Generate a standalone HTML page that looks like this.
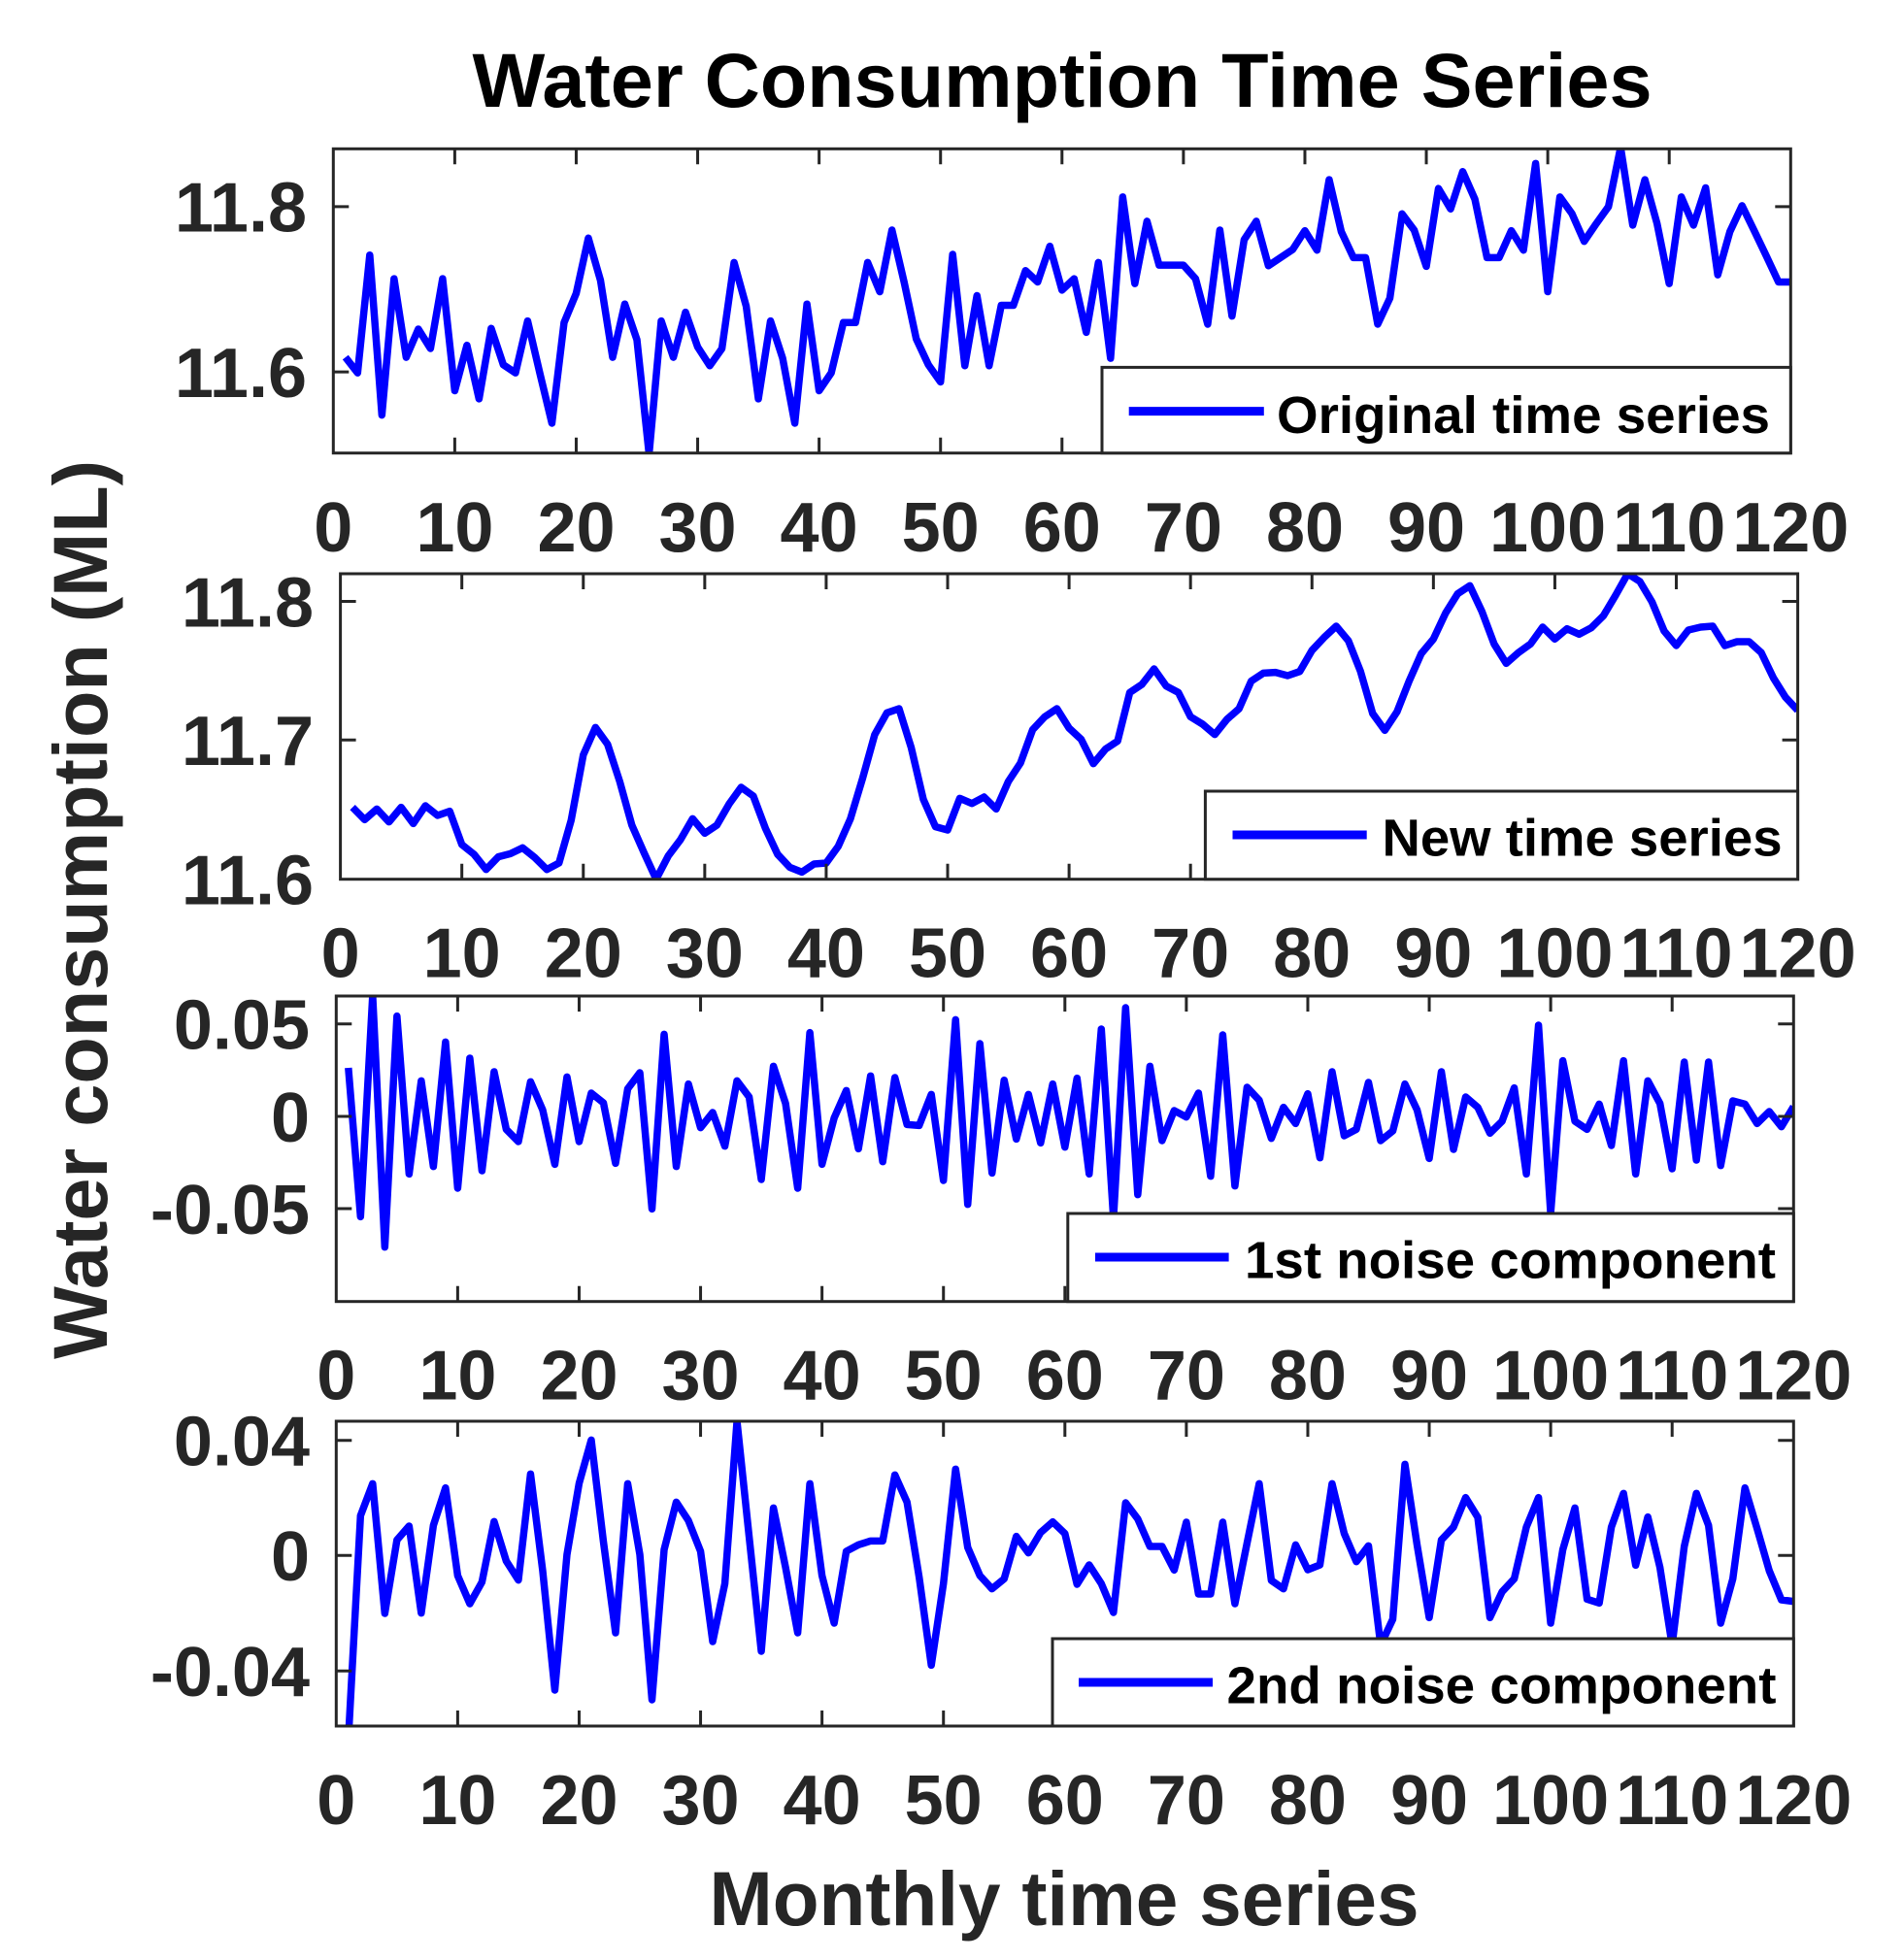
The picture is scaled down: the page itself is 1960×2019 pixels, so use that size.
<!DOCTYPE html>
<html>
<head>
<meta charset="utf-8">
<style>
html,body{margin:0;padding:0;background:#fff;}
svg{display:block;}
text{font-family:"Liberation Sans",Arial,sans-serif;font-weight:bold;}
.tl{font-size:72px;fill:#262626;}
.lg{font-size:54px;fill:#000;}
.ax{fill:none;stroke:#262626;stroke-width:3;}
.dl{fill:none;stroke:#0000FF;stroke-width:7.5;stroke-linejoin:round;stroke-linecap:butt;}
</style>
</head>
<body>
<svg width="1960" height="2019" viewBox="0 0 1960 2019" xmlns="http://www.w3.org/2000/svg">
<rect width="1960" height="2019" fill="#fff"/>
<defs>
<clipPath id="c1"><rect x="343.3" y="153.3" width="1501" height="313.4"/></clipPath>
<clipPath id="c2"><rect x="350.6" y="591" width="1501" height="314.7"/></clipPath>
<clipPath id="c3"><rect x="346.3" y="1026" width="1501" height="314.7"/></clipPath>
<clipPath id="c4"><rect x="346.3" y="1464" width="1501" height="314"/></clipPath>
</defs>

<!-- Title -->
<text x="1094" y="110" font-size="79" text-anchor="middle" fill="#000" textLength="1215" lengthAdjust="spacingAndGlyphs">Water Consumption Time Series</text>
<!-- Y label -->
<text transform="translate(110,937) rotate(-90)" font-size="79" text-anchor="middle" fill="#262626" textLength="926" lengthAdjust="spacingAndGlyphs">Water consumption (ML)</text>
<!-- X label -->
<text x="1096" y="1983" font-size="79" text-anchor="middle" fill="#262626" textLength="731" lengthAdjust="spacingAndGlyphs">Monthly time series</text>

<!-- ============ PLOT 1 ============ -->
<g clip-path="url(#c1)">
<g transform="translate(343.3,150) scale(12.508,0.33445)">
<polyline class="dl" vector-effect="non-scaling-stroke" points="1,652 2,700 3,337 4,830 5,410 6,652 7,565 8,625 9,410 10,755 11,615 12,780 13,563 14,675 15,700 16,540 17,700 18,855 19,545 20,455 21,285 22,415 23,652 24,488 25,598 26,950 27,540 28,652 29,513 30,620 31,678 32,625 33,360 34,495 35,780 36,540 37,655 38,855 39,488 40,755 41,700 42,545 43,545 44,360 45,450 46,260 47,420 48,595 49,675 50,728 51,335 52,678 53,462 54,678 55,492 56,492 57,385 58,420 59,310 60,445 61,410 62,575 63,360 64,655 65,158 66,425 67,233 68,368 69,368 70,368 71,410 72,550 73,260 74,525 75,290 76,233 77,370 78,345 79,320 80,262 81,322 82,105 83,265 84,345 85,345 86,550 87,470 88,210 89,260 90,372 91,132 92,195 93,80 94,165 95,345 96,345 97,262 98,322 99,55 100,450 101,158 102,210 103,295 104,240 105,188 106,5 107,245 108,105 109,240 110,425 111,158 112,245 113,130 114,398 115,265 116,185 117,262 118,340 119,420 120,420"/>
</g>
</g>
<g transform="translate(343.3,153.3)">
<rect class="ax" x="0" y="0" width="1501" height="313.4"/>
<path class="ax" d="M125.08,0v16M250.17,0v16M375.25,0v16M500.33,0v16M625.42,0v16M750.5,0v16M875.58,0v16M1000.67,0v16M1125.75,0v16M1250.83,0v16M1375.92,0v16
M125.08,313.4v-16M250.17,313.4v-16M375.25,313.4v-16M500.33,313.4v-16M625.42,313.4v-16M750.5,313.4v-16M875.58,313.4v-16M1000.67,313.4v-16M1125.75,313.4v-16M1250.83,313.4v-16M1375.92,313.4v-16
M0,59.6h16M0,229.8h16M1501,59.6h-16M1501,229.8h-16"/>
</g>
<text class="tl" x="316" y="238.7" text-anchor="end">11.8</text>
<text class="tl" x="316" y="408.9" text-anchor="end">11.6</text>
<g class="tl" text-anchor="middle">
<text x="343.3" y="568">0</text><text x="468.4" y="568">10</text><text x="593.5" y="568">20</text><text x="718.5" y="568">30</text><text x="843.6" y="568">40</text><text x="968.7" y="568">50</text><text x="1093.8" y="568">60</text><text x="1218.9" y="568">70</text><text x="1344" y="568">80</text><text x="1469" y="568">90</text><text x="1594.1" y="568">100</text><text x="1719.2" y="568">110</text><text x="1844.3" y="568">120</text>
</g>
<rect x="1135" y="378.4" width="709.3" height="88.3" fill="#fff" stroke="#262626" stroke-width="3"/>
<line x1="1162.7" y1="423.6" x2="1301.8" y2="423.6" stroke="#0000FF" stroke-width="9"/>
<text class="lg" x="1315" y="446" textLength="508" lengthAdjust="spacingAndGlyphs">Original time series</text>

<!-- ============ PLOT 2 ============ -->
<g clip-path="url(#c2)">
<g transform="translate(350.6,585) scale(12.508,0.333333)">
<polyline class="dl" vector-effect="non-scaling-stroke" points="1,740 2,778 3,745 4,785 5,740 6,790 7,735 8,765 9,752 10,855 11,885 12,932 13,893 14,883 15,865 16,895 17,932 18,912 19,780 20,578 21,493 22,545 23,660 24,795 25,880 26,962 27,890 28,840 29,775 30,820 31,795 32,730 33,678 34,705 35,805 36,885 37,925 38,940 39,915 40,912 41,860 42,775 43,650 44,515 45,448 46,435 47,555 48,715 49,800 50,810 51,712 52,728 53,708 54,745 55,660 56,603 57,500 58,460 59,435 60,495 61,530 62,605 63,560 64,535 65,385 66,360 67,312 68,365 69,385 70,460 71,483 72,515 73,468 74,435 75,350 76,325 77,323 78,333 79,320 80,255 81,215 82,180 83,225 84,320 85,450 86,502 87,445 88,350 89,265 90,220 91,140 92,80 93,55 94,135 95,235 96,295 97,262 98,235 99,183 100,220 101,188 102,205 103,185 104,148 105,85 106,18 107,42 108,105 109,195 110,240 111,192 112,183 113,180 114,240 115,228 116,228 117,262 118,340 119,400 120,440"/>
</g>
</g>
<g transform="translate(350.6,591)">
<rect class="ax" x="0" y="0" width="1501" height="314.7"/>
<path class="ax" d="M125.08,0v16M250.17,0v16M375.25,0v16M500.33,0v16M625.42,0v16M750.5,0v16M875.58,0v16M1000.67,0v16M1125.75,0v16M1250.83,0v16M1375.92,0v16
M125.08,314.7v-16M250.17,314.7v-16M375.25,314.7v-16M500.33,314.7v-16M625.42,314.7v-16M750.5,314.7v-16M875.58,314.7v-16M1000.67,314.7v-16M1125.75,314.7v-16M1250.83,314.7v-16M1375.92,314.7v-16
M0,28.5h16M0,171.3h16M1501,28.5h-16M1501,171.3h-16"/>
</g>
<text class="tl" x="323" y="645.3" text-anchor="end">11.8</text>
<text class="tl" x="323" y="788.1" text-anchor="end">11.7</text>
<text class="tl" x="323" y="931.5" text-anchor="end">11.6</text>
<g class="tl" text-anchor="middle">
<text x="350.6" y="1006.7">0</text><text x="475.7" y="1006.7">10</text><text x="600.8" y="1006.7">20</text><text x="725.8" y="1006.7">30</text><text x="850.9" y="1006.7">40</text><text x="976" y="1006.7">50</text><text x="1101.1" y="1006.7">60</text><text x="1226.2" y="1006.7">70</text><text x="1351.2" y="1006.7">80</text><text x="1476.3" y="1006.7">90</text><text x="1601.4" y="1006.7">100</text><text x="1726.5" y="1006.7">110</text><text x="1851.6" y="1006.7">120</text>
</g>
<rect x="1241.4" y="815" width="610.2" height="90.7" fill="#fff" stroke="#262626" stroke-width="3"/>
<line x1="1269.5" y1="860" x2="1407.7" y2="860" stroke="#0000FF" stroke-width="9"/>
<text class="lg" x="1423.5" y="881.7" textLength="412" lengthAdjust="spacingAndGlyphs">New time series</text>

<!-- ============ PLOT 3 ============ -->
<g clip-path="url(#c3)">
<g transform="translate(346.3,1020) scale(12.508,0.333333)">
<polyline class="dl" vector-effect="non-scaling-stroke" points="1,240 2,700 3,16 4,794 5,80 6,568 7,280 8,545 9,160 10,612 11,210 12,558 13,252 14,430 15,468 16,283 17,370 18,538 19,268 20,468 21,318 22,348 23,535 24,305 25,255 26,676 27,136 28,545 29,290 30,425 31,378 32,482 33,280 34,330 35,585 36,235 37,350 38,612 39,131 40,538 41,395 42,310 43,490 44,265 45,530 46,270 47,415 48,418 49,322 50,588 51,91 52,662 53,165 54,565 55,278 56,460 57,322 58,472 59,290 60,485 61,272 62,568 63,120 64,705 65,54 66,632 67,235 68,465 69,372 70,392 71,318 72,575 73,138 74,605 75,300 76,340 77,458 78,362 79,412 80,320 81,518 82,252 83,450 84,430 85,285 86,465 87,435 88,290 89,370 90,520 91,252 92,492 93,330 94,362 95,442 96,405 97,302 98,568 99,108 100,690 101,218 102,405 103,430 104,352 105,480 106,218 107,568 108,280 109,350 110,552 111,222 112,525 113,222 114,542 115,342 116,352 117,412 118,375 119,422 120,360"/>
</g>
</g>
<g transform="translate(346.3,1026)">
<rect class="ax" x="0" y="0" width="1501" height="314.7"/>
<path class="ax" d="M125.08,0v16M250.17,0v16M375.25,0v16M500.33,0v16M625.42,0v16M750.5,0v16M875.58,0v16M1000.67,0v16M1125.75,0v16M1250.83,0v16M1375.92,0v16
M125.08,314.7v-16M250.17,314.7v-16M375.25,314.7v-16M500.33,314.7v-16M625.42,314.7v-16M750.5,314.7v-16M875.58,314.7v-16M1000.67,314.7v-16M1125.75,314.7v-16M1250.83,314.7v-16M1375.92,314.7v-16
M0,28.7h16M0,124h16M0,219h16M1501,28.7h-16M1501,124h-16M1501,219h-16"/>
</g>
<text class="tl" x="319" y="1080.5" text-anchor="end">0.05</text>
<text class="tl" x="319" y="1175.8" text-anchor="end">0</text>
<text class="tl" x="319" y="1270.8" text-anchor="end">-0.05</text>
<g class="tl" text-anchor="middle">
<text x="346.3" y="1441.7">0</text><text x="471.4" y="1441.7">10</text><text x="596.5" y="1441.7">20</text><text x="721.5" y="1441.7">30</text><text x="846.6" y="1441.7">40</text><text x="971.7" y="1441.7">50</text><text x="1096.8" y="1441.7">60</text><text x="1221.9" y="1441.7">70</text><text x="1346.9" y="1441.7">80</text><text x="1472" y="1441.7">90</text><text x="1597.1" y="1441.7">100</text><text x="1722.2" y="1441.7">110</text><text x="1847.3" y="1441.7">120</text>
</g>
<rect x="1099.8" y="1250" width="747.5" height="90.7" fill="#fff" stroke="#262626" stroke-width="3"/>
<line x1="1128" y1="1295" x2="1265.6" y2="1295" stroke="#0000FF" stroke-width="9"/>
<text class="lg" x="1282" y="1316.7" textLength="547" lengthAdjust="spacingAndGlyphs">1st noise component</text>

<!-- ============ PLOT 4 ============ -->
<g clip-path="url(#c4)">
<g transform="translate(346.3,1458) scale(12.508,0.333333)">
<polyline class="dl" vector-effect="non-scaling-stroke" points="1,1000 2,310 3,211 4,612 5,385 6,342 7,611 8,340 9,224 10,495 11,582 12,515 13,328 14,450 15,509 16,181 17,480 18,849 19,430 20,210 21,76 22,390 23,672 24,211 25,430 26,879 27,415 28,268 29,325 30,420 31,699 32,520 33,18 34,375 35,729 36,286 37,470 38,672 39,211 40,495 41,642 42,420 43,400 44,388 45,388 46,184 47,268 48,500 49,772 50,520 51,166 52,408 53,495 54,536 55,505 56,374 57,425 58,362 59,329 60,365 61,522 62,462 63,520 64,609 65,270 66,320 67,405 68,405 69,478 70,330 71,552 72,552 73,330 74,582 75,395 76,211 77,510 78,536 79,400 80,477 81,462 82,211 83,365 84,452 85,403 86,710 87,630 88,151 89,400 90,625 91,385 92,345 93,254 94,315 95,625 96,545 97,505 98,345 99,254 100,642 101,415 102,286 103,568 104,580 105,345 106,241 107,463 108,314 109,470 110,710 111,405 112,241 113,340 114,642 115,505 116,224 117,350 118,480 119,570 120,575"/>
</g>
</g>
<g transform="translate(346.3,1464)">
<rect class="ax" x="0" y="0" width="1501" height="314"/>
<path class="ax" d="M125.08,0v16M250.17,0v16M375.25,0v16M500.33,0v16M625.42,0v16M750.5,0v16M875.58,0v16M1000.67,0v16M1125.75,0v16M1250.83,0v16M1375.92,0v16
M125.08,314v-16M250.17,314v-16M375.25,314v-16M500.33,314v-16M625.42,314v-16M750.5,314v-16M875.58,314v-16M1000.67,314v-16M1125.75,314v-16M1250.83,314v-16M1375.92,314v-16
M0,19.7h16M0,138.3h16M0,257.3h16M1501,19.7h-16M1501,138.3h-16M1501,257.3h-16"/>
</g>
<text class="tl" x="319" y="1509.5" text-anchor="end">0.04</text>
<text class="tl" x="319" y="1628.1" text-anchor="end">0</text>
<text class="tl" x="319" y="1747.1" text-anchor="end">-0.04</text>
<g class="tl" text-anchor="middle">
<text x="346.3" y="1879">0</text><text x="471.4" y="1879">10</text><text x="596.5" y="1879">20</text><text x="721.5" y="1879">30</text><text x="846.6" y="1879">40</text><text x="971.7" y="1879">50</text><text x="1096.8" y="1879">60</text><text x="1221.9" y="1879">70</text><text x="1346.9" y="1879">80</text><text x="1472" y="1879">90</text><text x="1597.1" y="1879">100</text><text x="1722.2" y="1879">110</text><text x="1847.3" y="1879">120</text>
</g>
<rect x="1084" y="1688" width="763.3" height="90" fill="#fff" stroke="#262626" stroke-width="3"/>
<line x1="1111" y1="1733" x2="1249" y2="1733" stroke="#0000FF" stroke-width="9"/>
<text class="lg" x="1263.5" y="1754.7" textLength="566" lengthAdjust="spacingAndGlyphs">2nd noise component</text>

</svg>
</body>
</html>
